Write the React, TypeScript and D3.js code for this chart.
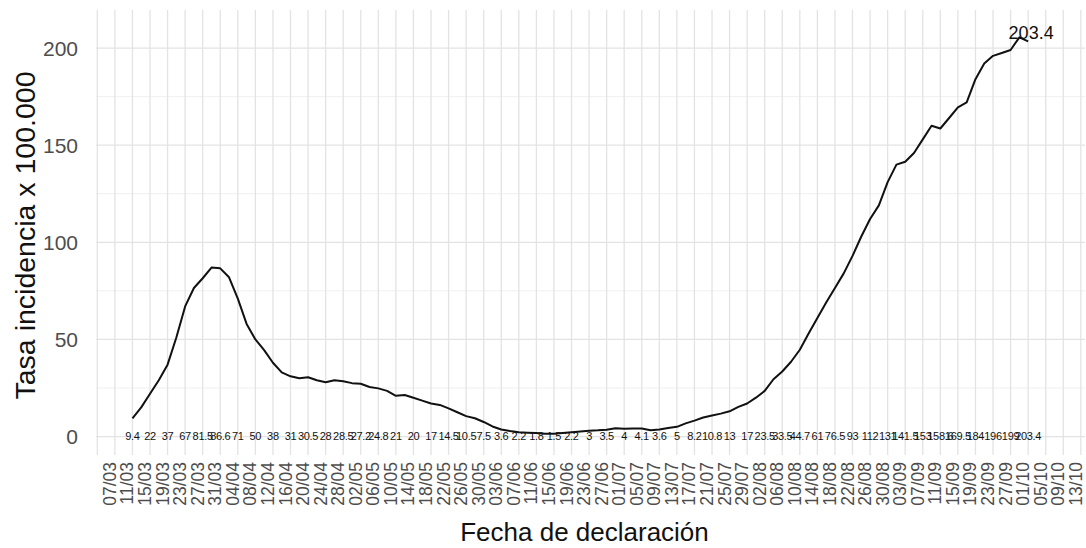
import * as d3 from "d3"

// 7-day incidence per 100.000, one reading every 2 days from 11/03/2020
const startDate = "2020-03-11"
const stepDays = 2
const labelEvery = 2 // a value label every 4 days
const tasa = [
  9.4, 15, 22, 29, 37, 51, 67, 76.5, 81.5, 87, 86.6, 82, 71, 58, 50, 44.5, 38, 33, 31, 30,
  30.5, 29, 28, 29, 28.5, 27.5, 27.2, 25.5, 24.8, 23.5, 21, 21.4, 20, 18.5, 17, 16.3, 14.5, 12.5, 10.5, 9.4,
  7.5, 5.2, 3.6, 2.8, 2.2, 2, 1.8, 1.5, 1.5, 1.8, 2.2, 2.6, 3, 3.2, 3.5, 4.3, 4, 4.2, 4.1, 3.2,
  3.6, 4.4, 5, 6.8, 8.2, 9.8, 10.8, 11.8, 13, 15.3, 17, 20, 23.5, 29.5, 33.5, 38.5, 44.7, 53, 61, 69,
  76.5, 84, 93, 103, 112, 119, 131, 140, 141.5, 146, 153, 160, 158.6, 164, 169.5, 172, 184, 192, 196, 197.5,
  199, 205.5, 203.4,
]

const firstTick = "2020-03-07"
const tickCount = 56 // 07/03 .. 13/10, every 4 days
const gridStart = "2020-03-03"
const gridCount = 57
const yMajor = [0, 50, 100, 150, 200]
const yMinor = [25, 75, 125, 175]
const xTitle = "Fecha de declaración"
const yTitle = "Tasa incidencia x 100.000"

const W = 1086
const H = 548
const panel = { left: 96, right: 1085, top: 10, bottom: 455 }
const font = "'Liberation Sans', Arial, Helvetica, sans-serif"

export default function App() {
  const parse = d3.utcParse("%Y-%m-%d")
  const start = parse(startDate) as Date
  const dayMs = 864e5
  const rows = tasa.map((v, i) => ({ date: d3.utcDay.offset(start, i * stepDays), value: v }))

  const x = d3.scaleUtc()
    .domain([new Date(+start - 8.3 * dayMs), new Date(+start + 216.95 * dayMs)])
    .range([panel.left, panel.right])
  const y = d3.scaleLinear().domain([-9.5, 219.6]).range([panel.bottom, panel.top])

  const ticks = d3.range(tickCount).map(i => d3.utcDay.offset(parse(firstTick) as Date, 4 * i))
  const grid = d3.range(gridCount).map(i => d3.utcDay.offset(parse(gridStart) as Date, 4 * i))
    .filter(d => x(d) >= panel.left && x(d) <= panel.right)
  const fmt = d3.utcFormat("%d/%m")

  const line = d3.line<{ date: Date; value: number }>()
    .x(d => x(d.date))
    .y(d => y(d.value))

  const labelled = rows.filter((_, i) => i % labelEvery === 0)
  const last = rows[rows.length - 1]

  return (
    <svg width={W} height={H} style={{ position: "absolute", left: 0, top: 0, background: "#fff" }} fontFamily={font}>
      <g>
        {yMinor.map(v => (
          <line key={"ym" + v} x1={panel.left} x2={panel.right} y1={y(v)} y2={y(v)} stroke="#ececec" strokeWidth={0.8} />
        ))}
        {grid.map(d => (
          <line key={"xg" + +d} x1={x(d)} x2={x(d)} y1={panel.top} y2={panel.bottom} stroke="#e3e3e3" strokeWidth={1.3} />
        ))}
        {yMajor.map(v => (
          <line key={"yM" + v} x1={panel.left} x2={panel.right} y1={y(v)} y2={y(v)} stroke="#e3e3e3" strokeWidth={1.3} />
        ))}
      </g>

      <path d={line(rows) || ""} fill="none" stroke="#111" strokeWidth={2} strokeLinejoin="round" />

      <g fontSize={11} fill="#111" textAnchor="middle" letterSpacing={-0.3}>
        {labelled.map(d => (
          <text key={"lb" + +d.date} x={x(d.date)} y={y(0)} dy="0.35em">{String(d.value)}</text>
        ))}
      </g>
      <text x={x(last.date) + 3} y={y(last.value) - 2} fontSize={18} textAnchor="middle" fill="#111">
        {String(last.value)}
      </text>

      <g fontSize={21} fill="#4d4d4d" textAnchor="end">
        {yMajor.map(v => (
          <text key={"yt" + v} x={78} y={y(v)} dy="0.36em">{v}</text>
        ))}
      </g>

      <g fontSize={17.5} fill="#4d4d4d" textAnchor="end">
        {ticks.map(d => (
          <text key={"xt" + +d} transform={`translate(${x(d) + 1},${panel.bottom + 7}) rotate(-90)`}>{fmt(d)}</text>
        ))}
      </g>

      <text x={(panel.left + panel.right) / 2 - 6} y={541} fontSize={26} textAnchor="middle" fill="#111">{xTitle}</text>
      <text transform={`translate(35,${(panel.top + panel.bottom) / 2 + 3}) rotate(-90)`} fontSize={28.5} textAnchor="middle" fill="#111">
        {yTitle}
      </text>
    </svg>
  )
}
